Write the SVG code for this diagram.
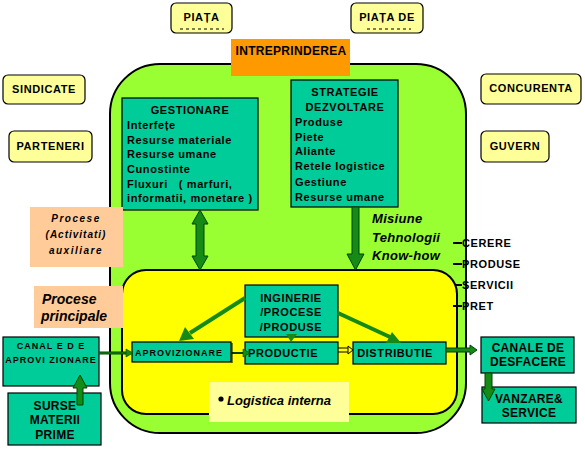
<svg xmlns="http://www.w3.org/2000/svg" width="585" height="449" viewBox="0 0 585 449">
<style>
text{font-family:"Liberation Sans",Arial,sans-serif;font-weight:bold;fill:#000}
.ext{fill:#FFFF99;stroke:#000;stroke-width:1.2}
.teal{fill:#00CC99;stroke:#000;stroke-width:1.2}
.peach{fill:#FFCC99}
.t11{font-size:11px;letter-spacing:0.6px}
.t12{font-size:12px;letter-spacing:0.3px}
.t9{font-size:9px;letter-spacing:1px}
.it{font-style:italic}
.garrow{fill:#168A16;stroke:#004400;stroke-width:1}
.gline{stroke:#168A16;stroke-width:4;fill:none}
.bline{stroke:#000;stroke-width:1;fill:none}
.dash{stroke:#000;stroke-width:1.2;stroke-dasharray:3,3}
.c{text-anchor:middle}
</style>

<g id="enterprise-area">
<rect x="110" y="64" width="356" height="369" rx="50" ry="50" fill="#99FF33" stroke="#000" stroke-width="2"/>
<rect x="122" y="270" width="335" height="144" rx="24" ry="24" fill="#FFFF00" stroke="#000" stroke-width="2"/>
</g>

<g id="piata">
<rect class="ext" x="171" y="3" width="61" height="30" rx="5"/>
<text class="t11 c" x="201.5" y="21">PIAȚA</text>
<line class="dash" x1="180" y1="29" x2="224" y2="29"/>
</g>
<g id="piata-de">
<rect class="ext" x="351" y="3" width="72" height="30" rx="5"/>
<text class="t11 c" x="387" y="21">PIAȚA DE</text>
<line class="dash" x1="367" y1="29" x2="411" y2="29"/>
</g>
<g id="intreprinderea">
<rect x="231" y="39" width="119" height="37" fill="#FF9900"/>
<text class="t12 c" x="291" y="55">INTREPRINDEREA</text>
</g>
<g id="sindicate">
<rect class="ext" x="3" y="75" width="82" height="29" rx="5"/>
<text class="t11 c" x="44" y="93">SINDICATE</text>
</g>
<g id="parteneri">
<rect class="ext" x="9" y="131" width="83" height="31" rx="5"/>
<text class="t11 c" x="50.5" y="150">PARTENERI</text>
</g>
<g id="concurenta">
<rect class="ext" x="481" y="74" width="100" height="30" rx="5"/>
<text class="t11 c" x="531" y="92">CONCURENTA</text>
</g>
<g id="guvern">
<rect class="ext" x="481" y="131" width="68" height="31" rx="5"/>
<text class="t11 c" x="515" y="150">GUVERN</text>
</g>

<g id="gestionare">
<rect class="teal" x="122" y="98" width="136" height="112"/>
<text class="t11 c" x="190" y="114">GESTIONARE</text>
<text class="t11" x="127" y="129">Interfețe</text>
<text class="t11" x="127" y="144">Resurse materiale</text>
<text class="t11" x="127" y="158">Resurse umane</text>
<text class="t11" x="127" y="173">Cunostinte</text>
<text class="t11" x="127" y="188" xml:space="preserve">Fluxuri   ( marfuri,</text>
<text class="t11" x="127" y="202">informatii, monetare )</text>
</g>

<g id="strategie">
<rect class="teal" x="291" y="80" width="107" height="127"/>
<text class="t11 c" x="345" y="96">STRATEGIE</text>
<text class="t11 c" x="345" y="111">DEZVOLTARE</text>
<text class="t11" x="295" y="126">Produse</text>
<text class="t11" x="295" y="141">Piete</text>
<text class="t11" x="295" y="155">Aliante</text>
<text class="t11" x="295" y="170">Retele logistice</text>
<text class="t11" x="295" y="186">Gestiune</text>
<text class="t11" x="295" y="201">Resurse umane</text>
</g>

<g id="misiune">
<text class="it" x="372" y="223" font-size="13" letter-spacing="0.3">Misiune</text>
<text class="it" x="372" y="242" font-size="13" letter-spacing="0.3">Tehnologii</text>
<text class="it" x="372" y="260" font-size="13" letter-spacing="0.3">Know-how</text>
</g>

<g id="piata-labels">
<line x1="453" y1="243" x2="462" y2="243" stroke="#000" stroke-width="2"/>
<text class="t11" x="462" y="247">CERERE</text>
<line x1="453" y1="264" x2="462" y2="264" stroke="#000" stroke-width="2"/>
<text class="t11" x="462" y="268">PRODUSE</text>
<line x1="455" y1="285" x2="462" y2="285" stroke="#000" stroke-width="2"/>
<text class="t11" x="462" y="289">SERVICII</text>
<line x1="453" y1="306" x2="462" y2="306" stroke="#000" stroke-width="2"/>
<text class="t11" x="462" y="310">PRET</text>
</g>

<g id="procese-auxiliare">
<rect class="peach" x="30" y="207" width="93" height="60"/>
<text class="c it" x="76" y="222" font-size="10" letter-spacing="1.5">Procese</text>
<text class="c it" x="76" y="238" font-size="10" letter-spacing="1">(Activitati)</text>
<text class="c it" x="76" y="254" font-size="10" letter-spacing="1.5">auxiliare</text>
</g>
<g id="procese-principale">
<rect class="peach" x="34" y="286" width="89" height="42"/>
<text class="it" x="42" y="304" font-size="14">Procese</text>
<text class="it" x="41" y="321" font-size="14">principale</text>
</g>

<g id="inginerie">
<rect class="teal" x="245" y="285" width="93" height="52"/>
<text class="t11 c" x="291" y="302" letter-spacing="0.8">INGINERIE</text>
<text class="t11 c" x="291" y="316" letter-spacing="0.8">/PROCESE</text>
<text class="t11 c" x="291" y="331" letter-spacing="0.8">/PRODUSE</text>
</g>
<g id="aprovizionare">
<rect class="teal" x="132" y="342" width="99" height="20"/>
<text class="t9" x="135" y="356">APROVIZIONARE</text>
</g>
<g id="productie">
<rect class="teal" x="245" y="342" width="93" height="22"/>
<text class="t11" x="248" y="357" letter-spacing="0.9">PRODUCTIE</text>
</g>
<g id="distributie">
<rect class="teal" x="353" y="342" width="93" height="22"/>
<text class="t11 c" x="395" y="357" letter-spacing="0.9">DISTRIBUTIE</text>
</g>

<g id="logistica">
<rect x="209" y="382" width="140" height="40" fill="#FFFF99"/>
<circle cx="221" cy="399" r="2.6" fill="#000"/>
<text class="it" x="227" y="405" font-size="13">Logistica interna</text>
</g>

<g id="canale-aprovizionare">
<rect class="teal" x="3" y="337" width="96" height="49"/>
<text class="t9 c" x="51" y="349">CANAL E D E</text>
<text class="t9 c" x="51" y="363">APROVI ZIONARE</text>
</g>
<g id="surse">
<rect class="teal" x="8" y="393" width="93" height="52"/>
<text class="t12 c" x="55" y="410">SURSE</text>
<text class="t12 c" x="55" y="424">MATERII</text>
<text class="t12 c" x="55" y="439">PRIME</text>
</g>
<g id="canale-desfacere">
<rect class="teal" x="481" y="337" width="93" height="36"/>
<text class="t12 c" x="528" y="352">CANALE DE</text>
<text class="t12 c" x="528" y="366">DESFACERE</text>
</g>
<g id="vanzare">
<rect class="teal" x="482" y="387" width="94" height="36"/>
<text class="t12 c" x="529" y="403">VANZARE&amp;</text>
<text class="t12 c" x="529" y="417">SERVICE</text>
</g>

<g id="connectors">
<polygon class="garrow" points="200,210 208,224 204,224 204,256 208,256 200,270 192,256 196,256 196,224 192,224"/>
<polygon class="garrow" points="352,207 359,207 359,254 364,254 355.5,270 347,254 352,254"/>
<line class="gline" x1="245" y1="298" x2="190" y2="333"/>
<polygon fill="#168A16" points="179,341 185,327 194,339"/>
<line class="gline" x1="338" y1="313" x2="390" y2="337"/>
<polygon fill="#168A16" points="401,343 386,343 392,332"/>
<polygon fill="#168A16" points="286,334 297,334 291,342"/>
<line class="bline" x1="338" y1="348" x2="350" y2="348"/>
<line class="bline" x1="338" y1="352" x2="350" y2="352"/>
<polygon fill="#FFFF00" stroke="#000" stroke-width="1" points="348,346 353,350 348,354"/>
<line x1="231" y1="353" x2="245" y2="353" stroke="#004400" stroke-width="2"/>
<line x1="232" y1="343" x2="232" y2="363" stroke="#000" stroke-width="1"/>
<polygon fill="#168A16" stroke="#004400" stroke-width="0.6" points="243,349 250,353 243,357"/>
<line x1="99" y1="353" x2="127" y2="353" stroke="#004400" stroke-width="3"/>
<line x1="99" y1="353" x2="127" y2="353" stroke="#168A16" stroke-width="1"/>
<polygon fill="#168A16" stroke="#004400" stroke-width="0.6" points="126,349 133,353 126,357"/>
<polygon class="garrow" points="446,348 470,348 470,345 477,350 470,355 470,352 446,352"/>
<polygon class="garrow" points="80,375 87,388 83,388 83,405 77,405 77,388 73,388"/>
<polygon class="garrow" points="485,373 492,373 492,389 495,389 488.5,401 482,389 485,389"/>
</g>
</svg>
